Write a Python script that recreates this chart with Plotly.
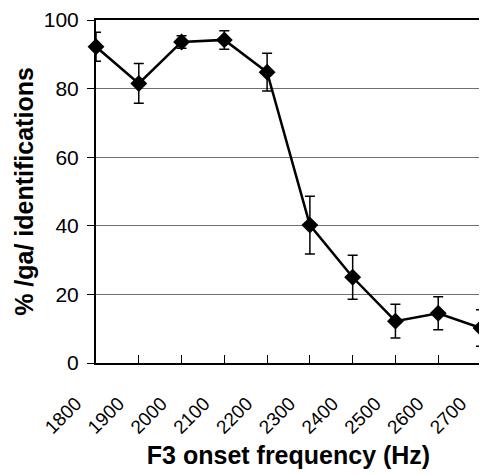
import plotly.graph_objects as go

freq = [1800, 1900, 2000, 2100, 2200, 2300, 2400, 2500, 2600, 2700]
pct_ga = [92.2, 81.5, 93.6, 94.2, 84.8, 40.2, 25.0, 12.2, 14.5, 10.2]
err = [4.2, 5.8, 1.8, 2.7, 5.5, 8.4, 6.4, 4.9, 4.8, 5.3]
tick_labels = [str(f) for f in freq]

FONT = "Liberation Sans, Arial, sans-serif"

fig = go.Figure()
fig.add_trace(go.Scatter(
    x=freq, y=pct_ga,
    mode="lines+markers",
    line=dict(color="black", width=2.5),
    marker=dict(symbol="diamond", size=13, color="black"),
    error_y=dict(type="data", array=err, visible=True, color="black",
                 thickness=1.5, width=5),
    cliponaxis=False,
    showlegend=False,
))

# page body has an 8px default margin; size figure to fit the 487x474 window
fig.update_layout(
    width=479, height=466,
    margin=dict(l=88, r=6, t=12, b=111),
    plot_bgcolor="white", paper_bgcolor="white",
    font=dict(family=FONT, color="black", size=19),
    xaxis=dict(
        range=[1800, 2700],
        automargin=False,
        tickvals=freq, ticktext=tick_labels,
        tickangle=-45,
        ticks="inside", ticklen=8, tickwidth=1.2, tickcolor="black",
        ticklabelstandoff=20, ticklabelshift=-20,
        showline=True, linewidth=2, linecolor="black", mirror=True,
        showgrid=False, zeroline=False,
        tickfont=dict(size=19),
        title=dict(text="<b>F3 onset frequency (Hz)</b>", font=dict(size=25), standoff=10),
    ),
    yaxis=dict(
        range=[0, 100],
        automargin=False,
        tickvals=[0, 20, 40, 60, 80, 100],
        ticks="outside", ticklen=7, tickwidth=1.2, tickcolor="black",
        ticklabelstandoff=4,
        showline=True, linewidth=2, linecolor="black", mirror=True,
        showgrid=True, gridcolor="#707070", gridwidth=1,
        zeroline=False,
        tickfont=dict(size=21),
        title=dict(text="<b>% /ga/ identifications</b>", font=dict(size=25), standoff=3),
    ),
)

fig.write_html("out.html")
